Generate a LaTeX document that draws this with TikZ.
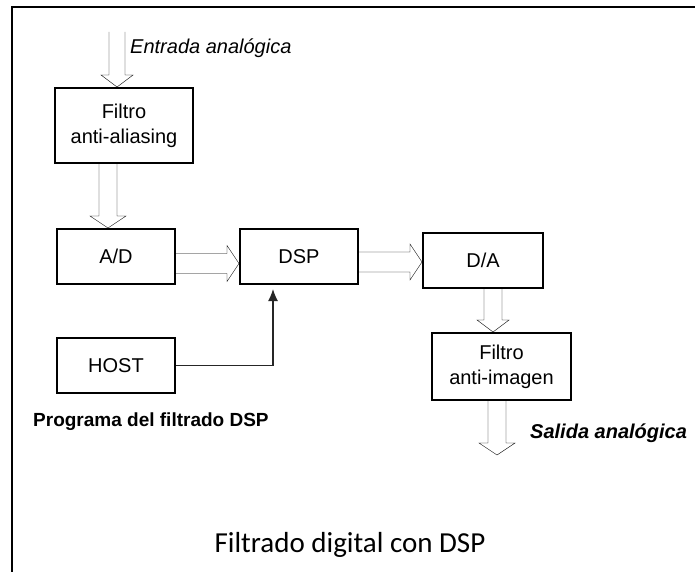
\documentclass[tikz,border=0pt]{standalone}
\usepackage{fontspec}
\setmainfont{Liberation Sans}
\newfontfamily\calibri{Carlito}
\usetikzlibrary{calc,arrows.meta}

\tikzset{
  bloque/.style={draw, line width=2pt, inner sep=0pt, minimum width=118pt, minimum height=55pt,
    align=center, font=\fontsize{20}{25}\selectfont},
  hueca/.style 2 args={draw=black!90, line width=1.4pt, line join=miter, to path={
    ($(\tikztostart)!#1!90:(\tikztotarget)$)
    -- ($(\tikztotarget)!12pt!(\tikztostart)!#1!90:(\tikztotarget)$)
    -- ($(\tikztotarget)!12pt!(\tikztostart)!#2!90:(\tikztotarget)$)
    -- (\tikztotarget)
    -- ($(\tikztotarget)!12pt!(\tikztostart)!#2!-90:(\tikztotarget)$)
    -- ($(\tikztotarget)!12pt!(\tikztostart)!#1!-90:(\tikztotarget)$)
    -- ($(\tikztostart)!#1!-90:(\tikztotarget)$)}},
  etiqueta/.style={inner sep=0pt, font=\fontsize{20}{22}\selectfont}
}

\begin{document}
\begin{tikzpicture}[x=1pt, y=-1pt]
  \useasboundingbox (0,0) rectangle (695,572);
  % Marco
  \draw[line width=2pt] (695,7) -- (12,7) -- (12,572);

  % Bloques
  \node[bloque, minimum width=138pt, minimum height=75pt] (filtroA) at (124,125.5) {Filtro\\anti-aliasing};
  \node[bloque] (AD) at (116,256.5) {A/D};
  \node[bloque] (DSP) at (299,256.5) {DSP};
  \node[bloque, minimum width=120pt] (DA) at (483,260.5) {D/A};
  \node[bloque, minimum width=139pt, minimum height=67pt] (filtroI) at (501.5,366.5) {Filtro\\anti-imagen};
  \node[bloque] (host) at (116,365.5) {HOST};

  % Extremos libres
  \coordinate (entrada) at (117,32);
  \coordinate (salida) at (497,455);

  % Flechas huecas
  \draw (entrada) to[hueca={8pt}{16pt}] ([xshift=-7pt]filtroA.north);
  \draw ([xshift=-16pt]filtroA.south) to[hueca={9pt}{18pt}] ([xshift=-8pt]AD.north);
  \draw ([yshift=-7pt]AD.east) to[hueca={10pt}{18pt}] ([yshift=-7pt]DSP.west);
  \draw ([yshift=-5.5pt]DSP.east) to[hueca={10pt}{18pt}] ([yshift=-1.5pt]DA.west);
  \draw ([xshift=10pt]DA.south) to[hueca={9pt}{16pt}] ([xshift=-8.5pt]filtroI.north);
  \draw ([xshift=-4.5pt]filtroI.south) to[hueca={9pt}{18pt}] (salida);

  % Programa desde el host
  \draw[-{Latex[length=12pt, width=10pt]}, line width=1.3pt, black!85] (host.east) -| ([xshift=-26pt, yshift=-4pt]DSP.south);

  % Textos
  \node[etiqueta, anchor=west, font=\fontsize{20}{22}\selectfont\itshape] (txtEntrada) at (130,48) {Entrada analógica};
  \node[etiqueta, anchor=west, font=\fontsize{20}{22}\selectfont\bfseries\itshape] (txtSalida) at (530,433) {Salida analógica};
  \node[etiqueta, anchor=west, font=\fontsize{19}{22}\selectfont\bfseries] (txtPrograma) at (33,422) {Programa del filtrado DSP};
  \node[inner sep=0pt, anchor=base, font=\calibri\fontsize{29}{32}\selectfont] (titulo) at (350,552) {Filtrado digital con DSP};
\end{tikzpicture}
\end{document}
